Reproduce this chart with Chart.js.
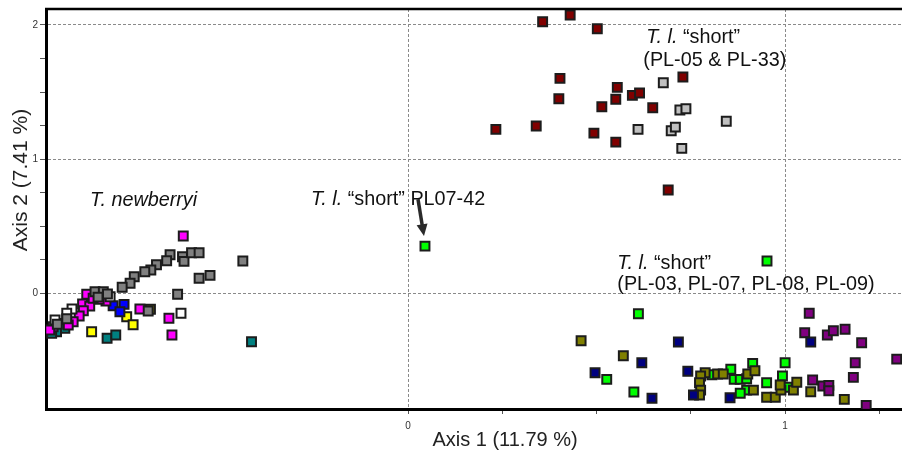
<!DOCTYPE html>
<html>
<head>
<meta charset="utf-8">
<script src="https://cdn.jsdelivr.net/npm/chart.js@4"></script>
<style>
  html, body { margin: 0; padding: 0; background: #fff; }
  #wrap { width: 902px; height: 452px; }
</style>
</head>
<body>
<div id="wrap"><canvas id="c" width="902" height="452"></canvas></div>
<script>
// ---- data (Axis 1, Axis 2) ----
const darkRed = [[0.357,2.024],[0.430,2.074],[0.502,1.972],[0.403,1.602],[0.400,1.450],[0.233,1.222],[0.340,1.247],[0.493,1.194],[0.514,1.390],[0.555,1.535],[0.551,1.446],[0.595,1.475],[0.614,1.493],[0.649,1.383],[0.729,1.612],[0.551,1.127],[0.690,0.770]];
const lightGrey = [[0.677,1.569],[0.721,1.366],[0.737,1.376],[0.844,1.282],[0.610,1.222],[0.698,1.212],[0.709,1.239],[0.726,1.080]];
const pl0742 = [[0.045,0.352]];
const olive = [[0.459,-0.353],[0.571,-0.465],[0.788,-0.592],[0.776,-0.616],[0.773,-0.666],[0.776,-0.721],[0.773,-0.758],[0.821,-0.601],[0.836,-0.601],[0.901,-0.601],[0.920,-0.577],[0.916,-0.721],[0.951,-0.775],[0.974,-0.775],[0.989,-0.721],[0.987,-0.683],[1.022,-0.721],[1.031,-0.663],[1.068,-0.733],[1.157,-0.790],[-0.683,-0.119]];
const green = [[0.952,0.241],[0.611,-0.152],[0.527,-0.641],[0.599,-0.735],[0.806,-0.607],[0.856,-0.566],[0.865,-0.641],[0.881,-0.641],[0.898,-0.636],[0.914,-0.522],[0.898,-0.721],[0.881,-0.745],[0.951,-0.666],[0.993,-0.616],[1.000,-0.517],[1.006,-0.700]];
const navy = [[0.717,-0.363],[0.620,-0.517],[0.496,-0.592],[0.647,-0.782],[0.742,-0.581],[0.757,-0.758],[0.854,-0.778],[1.068,-0.363]];
const purple = [[1.064,-0.149],[1.052,-0.294],[1.112,-0.311],[1.128,-0.279],[1.159,-0.268],[1.203,-0.368],[1.186,-0.517],[1.296,-0.490],[1.181,-0.626],[1.073,-0.646],[1.100,-0.691],[1.116,-0.686],[1.116,-0.726],[1.215,-0.835]];
const grey = [[-0.631,0.288],[-0.640,0.243],[-0.667,0.213],[-0.682,0.174],[-0.698,0.161],[-0.726,0.124],[-0.737,0.075],[-0.758,0.045],[-0.598,0.273],[-0.594,0.238],[-0.574,0.303],[-0.554,0.303],[-0.554,0.112],[-0.525,0.134],[-0.438,0.241],[-0.611,-0.007],[-0.830,0.012],[-0.808,0.012],[-0.797,-0.005],[-0.689,-0.132],[-0.822,-0.028],[-0.905,-0.190],[-0.930,-0.230]];
const white = [[-0.602,-0.149],[-0.891,-0.117],[-0.905,-0.149],[-0.936,-0.199],[-0.790,-0.025]];
const magenta = [[-0.596,0.427],[-0.852,-0.007],[-0.863,-0.080],[-0.844,-0.095],[-0.861,-0.130],[-0.872,-0.169],[-0.801,-0.057],[-0.819,-0.045],[-0.835,-0.037],[-0.711,-0.117],[-0.634,-0.186],[-0.626,-0.311],[-0.888,-0.212],[-0.901,-0.236],[-0.941,-0.249],[-0.950,-0.273]];
const blue = [[-0.782,-0.092],[-0.753,-0.082],[-0.764,-0.137]];
const yellow = [[-0.746,-0.174],[-0.729,-0.234],[-0.839,-0.286]];
const teal = [[-0.923,-0.224],[-0.910,-0.261],[-0.932,-0.286],[-0.945,-0.298],[-0.798,-0.335],[-0.775,-0.311],[-0.415,-0.361]];

const xTicks = [0, 0.25, 0.5, 0.75, 1, 1.25];
const yTicks = [0, 0.25, 0.5, 0.75, 1, 1.25, 1.5, 1.75, 2];
const xRange = [-0.96, 1.31];
const yRange = [-0.862, 2.119];

const series = [
  { name: 'grey', data: grey, color: '#808080' },
  { name: 'white', data: white, color: '#ffffff' },
  { name: 'magenta', data: magenta, color: '#ff00ff' },
  { name: 'blue', data: blue, color: '#0000ff' },
  { name: 'yellow', data: yellow, color: '#ffff00' },
  { name: 'teal', data: teal, color: '#008080' },
  { name: 'darkRed', data: darkRed, color: '#800000' },
  { name: 'lightGrey', data: lightGrey, color: '#c0c0c0' },
  { name: 'navy', data: navy, color: '#000080' },
  { name: 'olive', data: olive, color: '#808000' },
  { name: 'green', data: green, color: '#00ff00' },
  { name: 'purple', data: purple, color: '#800080' },
  { name: 'pl0742', data: pl0742, color: '#00ff00' }
];

// annotation labels: [x, y(baseline), segments [text, italic]]
const labels = [
  { x: -0.843, y: 0.650, segs: [['T. newberryi', true]] },
  { x: -0.257, y: 0.660, segs: [['T. l.', true], [' \u201cshort\u201d PL07-42', false]] },
  { x: 0.632, y: 1.865, segs: [['T. l.', true], [' \u201cshort\u201d', false]] },
  { x: 0.624, y: 1.693, segs: [['(PL-05 & PL-33)', false]] },
  { x: 0.555, y: 0.178, segs: [['T. l.', true], [' \u201cshort\u201d', false]] },
  { x: 0.555, y: 0.022, segs: [['(PL-03, PL-07, PL-08, PL-09)', false]] }
];

const FONT = '"Liberation Sans", Arial, sans-serif';
const isQuarter = v => Math.abs(v * 4 - Math.round(v * 4)) < 1e-6;
const isInt = v => Math.abs(v - Math.round(v)) < 1e-6;

const decor = {
  id: 'decor',
  afterDraw(chart) {
    const { ctx, chartArea: a, scales: { x, y } } = chart;
    ctx.save();
    // top frame line
    ctx.strokeStyle = '#000';
    ctx.lineWidth = 2.5;
    ctx.beginPath();
    ctx.moveTo(a.left - 1, a.top);
    ctx.lineTo(chart.width, a.top);
    ctx.stroke();

    // labels
    ctx.fillStyle = '#111';
    ctx.textBaseline = 'alphabetic';
    ctx.textAlign = 'left';
    labels.forEach(l => {
      let px = x.getPixelForValue(l.x);
      const py = y.getPixelForValue(l.y);
      l.segs.forEach(([t, it]) => {
        ctx.font = (it ? 'italic ' : '') + '19.8px ' + FONT;
        ctx.fillText(t, px, py);
        px += ctx.measureText(t).width;
      });
    });

    // arrow to PL07-42
    const tx = x.getPixelForValue(pl0742[0][0]);
    const ty = y.getPixelForValue(pl0742[0][1]);
    const x0 = tx - 7, y0 = ty - 47, x1 = tx - 1, y1 = ty - 10;
    const ang = Math.atan2(y1 - y0, x1 - x0);
    ctx.strokeStyle = '#2a2a2a';
    ctx.fillStyle = '#2a2a2a';
    ctx.lineWidth = 3.5;
    ctx.beginPath();
    ctx.moveTo(x0, y0);
    ctx.lineTo(x1 - 8 * Math.cos(ang), y1 - 8 * Math.sin(ang));
    ctx.stroke();
    ctx.beginPath();
    ctx.moveTo(x1, y1);
    ctx.lineTo(x1 - 12 * Math.cos(ang) + 5.5 * Math.sin(ang), y1 - 12 * Math.sin(ang) - 5.5 * Math.cos(ang));
    ctx.lineTo(x1 - 12 * Math.cos(ang) - 5.5 * Math.sin(ang), y1 - 12 * Math.sin(ang) + 5.5 * Math.cos(ang));
    ctx.closePath();
    ctx.fill();

    // axis titles
    ctx.fillStyle = '#222';
    ctx.font = '20px ' + FONT;
    ctx.textAlign = 'center';
    ctx.fillText('Axis 1 (11.79 %)', 505, 446);
    ctx.translate(27, 180);
    ctx.rotate(-Math.PI / 2);
    ctx.font = '21px ' + FONT;
    ctx.fillText('Axis 2 (7.41 %)', 0, 0);
    ctx.restore();
  }
};

new Chart(document.getElementById('c'), {
  type: 'scatter',
  data: {
    datasets: series.map(s => ({
      label: s.name,
      data: s.data.map(p => ({ x: p[0], y: p[1] })),
      pointStyle: 'rect',
      pointRadius: 6.3,
      pointHoverRadius: 6.3,
      backgroundColor: s.color,
      borderColor: '#1c1c1c',
      borderWidth: 2
    }))
  },
  options: {
    responsive: false,
    animation: false,
    events: [],
    layout: { autoPadding: false, padding: { top: 9, right: 0, left: 0, bottom: 0 } },
    plugins: { legend: { display: false }, tooltip: { enabled: false } },
    scales: {
      x: {
        type: 'linear',
        min: xRange[0], max: xRange[1],
        afterBuildTicks: s => { s.ticks = xTicks.map(v => ({ value: v })); },
        afterFit: s => { s.height = 43; s.paddingLeft = 0; s.paddingRight = 0; },
        ticks: {
          color: '#333',
          font: { size: 10, family: FONT },
          padding: 6,
          maxRotation: 0,
          autoSkip: false,
          callback: v => isInt(v) ? String(Math.round(v)) : ''
        },
        grid: {
          color: c => (c.tick && isInt(c.tick.value)) ? '#8a8a8a' : 'rgba(0,0,0,0)',
          lineWidth: 1,
          tickColor: c => (c.tick && isQuarter(c.tick.value)) ? '#555' : 'rgba(0,0,0,0)',
          tickLength: 5,
          tickWidth: 1
        },
        border: { display: true, color: '#000', width: 3, dash: [3, 2] }
      },
      y: {
        type: 'linear',
        min: yRange[0], max: yRange[1],
        afterBuildTicks: s => { s.ticks = yTicks.map(v => ({ value: v })); },
        afterFit: s => { s.width = 46; s.paddingTop = 0; s.paddingBottom = 0; },
        ticks: {
          color: '#333',
          font: { size: 10, family: FONT },
          padding: 2,
          autoSkip: false,
          callback: v => isInt(v) ? String(Math.round(v)) : ''
        },
        grid: {
          color: c => (c.tick && isInt(c.tick.value)) ? '#8a8a8a' : 'rgba(0,0,0,0)',
          lineWidth: 1,
          tickColor: c => (c.tick && isQuarter(c.tick.value)) ? '#555' : 'rgba(0,0,0,0)',
          tickLength: 6,
          tickWidth: 1
        },
        border: { display: true, color: '#000', width: 3, dash: [3, 2] }
      }
    }
  },
  plugins: [decor]
});
</script>
</body>
</html>
